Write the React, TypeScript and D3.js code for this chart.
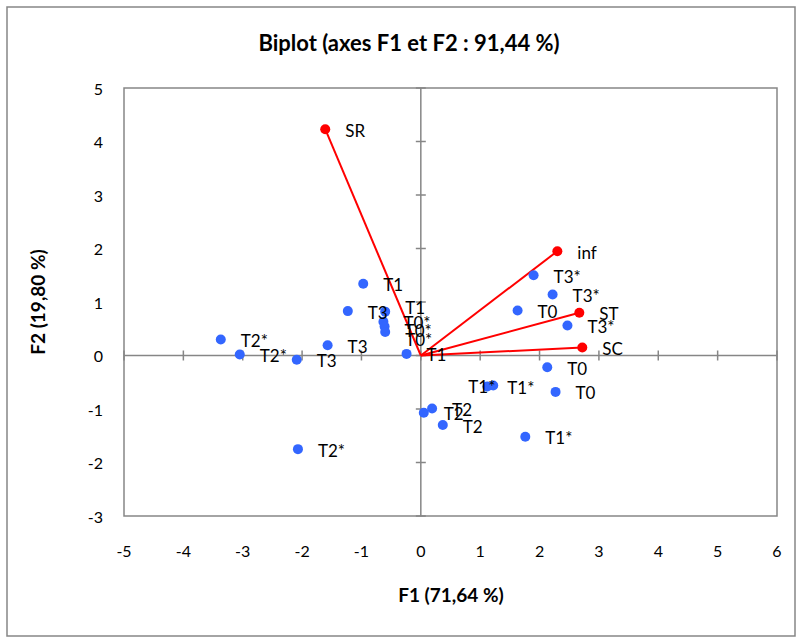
import React from 'react';
import * as d3 from 'd3';

// observations (blue)
const obsLabels = ['T2*', 'T2*', 'T3', 'T3', 'T3', 'T1', 'T1', 'T0*', 'T0*', 'T0*', 'T1', 'T3*', 'T3*', 'T0', 'T3*', 'T0', 'T1*', 'T1*', 'T0', 'T2', 'T2', 'T2', 'T1*', 'T2*'];
const obsF1 = [-3.37, -3.05, -2.09, -1.57, -1.23, -0.97, -0.6, -0.63, -0.61, -0.6, -0.24, 1.9, 2.22, 1.63, 2.47, 2.13, 1.12, 1.22, 2.27, 0.19, 0.05, 0.37, 1.76, -2.07];
const obsF2 = [0.3, 0.02, -0.08, 0.19, 0.83, 1.34, 0.82, 0.63, 0.54, 0.44, 0.03, 1.5, 1.14, 0.84, 0.56, -0.22, -0.58, -0.56, -0.68, -0.99, -1.07, -1.3, -1.52, -1.75];

// variables (red vectors)
const varLabels = ['SR', 'inf', 'ST', 'SC'];
const varF1 = [-1.61, 2.3, 2.67, 2.72];
const varF2 = [4.23, 1.95, 0.8, 0.15];

const xTicks = [-5, -4, -3, -2, -1, 0, 1, 2, 3, 4, 5, 6];
const yTicks = [-3, -2, -1, 0, 1, 2, 3, 4, 5];

const title = 'Biplot (axes F1 et F2 : 91,44 %)';
const xTitle = 'F1 (71,64 %)';
const yTitle = 'F2 (19,80 %)';

const W = 800;
const H = 639;
const font = 'Lato, "Open Sans", sans-serif';
const grey = '#868686';

const App = () => {
  const x = d3.scaleLinear().domain([-5, 6]).range([124, 777]);
  const y = d3.scaleLinear().domain([-3, 5]).range([516, 88]);
  const x0 = x(0);
  const y0 = y(0);

  const obs = obsLabels.map((label, i) => ({ label, f1: obsF1[i], f2: obsF2[i] }));
  const vars = varLabels.map((label, i) => ({ label, f1: varF1[i], f2: varF2[i] }));

  // label nudges copied from the original chart (overlapping labels were moved there)
  const labelDx = (i: number) => (i === 17 ? -25 : 20);
  const labelDy = (i: number) => ({ 6: -4, 7: 1, 8: 4, 9: 8 } as Record<number, number>)[i] ?? 1;

  return (
    <svg width={W} height={H} style={{ position: 'absolute', left: 0, top: 0, background: '#fff' }} fontFamily={font}>
      <rect x={7} y={7} width={788} height={629} fill="#fff" stroke={grey} strokeWidth={1.5} />
      <text x={409} y={42} textAnchor="middle" dominantBaseline="central" fontSize={22} fontWeight="bold">{title}</text>

      <rect x={x(-5)} y={y(5)} width={x(6) - x(-5)} height={y(-3) - y(5)} fill="none" stroke={grey} strokeWidth={1.5} />
      <line x1={x(-5)} x2={x(6)} y1={y0} y2={y0} stroke={grey} strokeWidth={1.5} />
      <line x1={x0} x2={x0} y1={y(5)} y2={y(-3)} stroke={grey} strokeWidth={1.5} />
      {xTicks.map(t => (
        <line key={'xt' + t} x1={x(t)} x2={x(t)} y1={y0 - 5} y2={y0 + 5} stroke={grey} strokeWidth={1.5} />
      ))}
      {yTicks.map(t => (
        <line key={'yt' + t} x1={x0 - 5} x2={x0 + 5} y1={y(t)} y2={y(t)} stroke={grey} strokeWidth={1.5} />
      ))}
      {xTicks.map(t => (
        <text key={'xl' + t} x={x(t)} y={550} textAnchor="middle" dominantBaseline="central" fontSize={16}>{t}</text>
      ))}
      {yTicks.map(t => (
        <text key={'yl' + t} x={103} y={y(t)} textAnchor="end" dominantBaseline="central" fontSize={16}>{t}</text>
      ))}
      <text x={451} y={594} textAnchor="middle" dominantBaseline="central" fontSize={19} fontWeight="bold">{xTitle}</text>
      <text transform={`translate(37,${(y(5) + y(-3)) / 2}) rotate(-90)`} textAnchor="middle" dominantBaseline="central" fontSize={19} fontWeight="bold">{yTitle}</text>

      {vars.map(d => (
        <line key={'vl' + d.label} x1={x0} y1={y0} x2={x(d.f1)} y2={y(d.f2)} stroke="#ff0000" strokeWidth={2} />
      ))}
      {obs.map((d, i) => (
        <circle key={'o' + i} cx={x(d.f1)} cy={y(d.f2)} r={5} fill="#3366ff" />
      ))}
      {vars.map(d => (
        <circle key={'vc' + d.label} cx={x(d.f1)} cy={y(d.f2)} r={5} fill="#ff0000" />
      ))}
      {obs.map((d, i) => (
        <text key={'ot' + i} x={x(d.f1) + labelDx(i)} y={y(d.f2) + labelDy(i)} dominantBaseline="central" fontSize={17}>{d.label}</text>
      ))}
      {vars.map(d => (
        <text key={'vt' + d.label} x={x(d.f1) + 20} y={y(d.f2) + 1} dominantBaseline="central" fontSize={17}>{d.label}</text>
      ))}
    </svg>
  );
};

export default App;
